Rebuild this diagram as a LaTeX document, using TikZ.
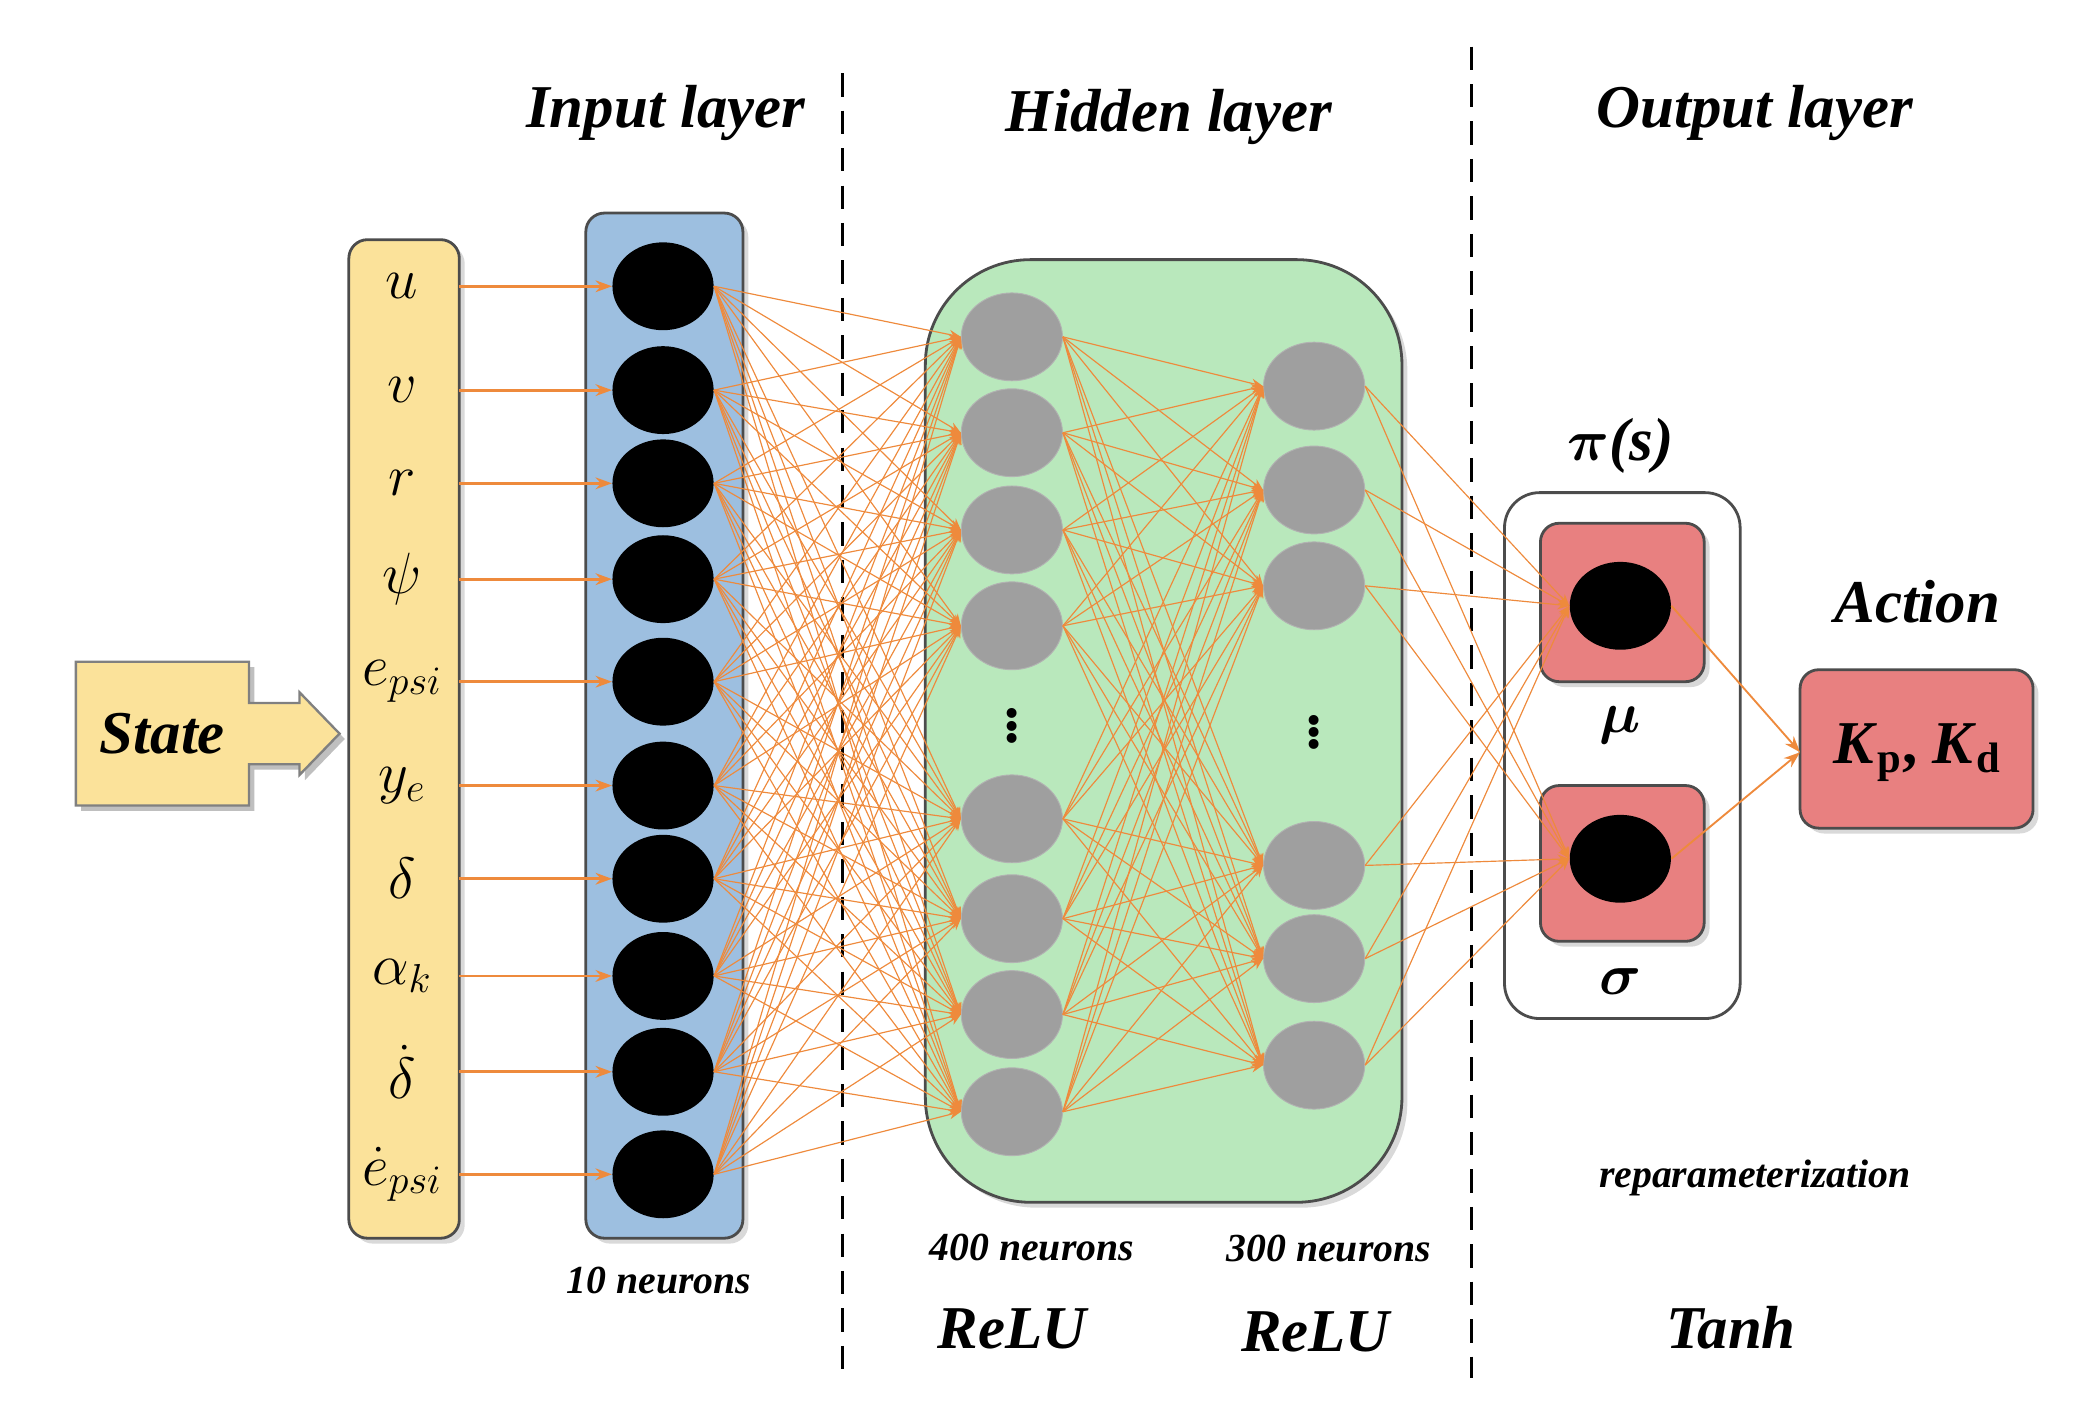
\documentclass[tikz,border=0pt]{standalone}
\usepackage{amsmath,bm}
\usepackage{fontspec}
\setmainfont{Liberation Serif}
\usetikzlibrary{arrows.meta,shadows,shapes.geometric}
\definecolor{yel}{HTML}{FBE29A}
\definecolor{blu}{HTML}{9DBFE0}
\definecolor{grn}{HTML}{B9E8BC}
\definecolor{rd}{HTML}{E88080}
\definecolor{org}{HTML}{EE8A3C}
\begin{document}
\begin{tikzpicture}[x=0.02cm,y=-0.02cm,
  box/.style={draw=black!70,line width=1.2pt,rounded corners=8pt},
  blk/.style={ellipse,fill=black,minimum width=76*0.02cm,minimum height=66*0.02cm,inner sep=0},
  gry/.style={ellipse,fill=gray!75,draw=gray!60,minimum width=76*0.02cm,minimum height=66*0.02cm,inner sep=0},
  con/.style={draw=org,line width=0.5pt,-{Stealth[length=5pt,width=4pt]}},
  inc/.style={draw=org,line width=1.2pt,-{Stealth[length=7pt,width=5pt]}},
  ttl/.style={font=\fontsize{26}{30}\selectfont\bfseries\itshape},
  sm/.style={font=\fontsize{17}{20}\selectfont\bfseries\itshape},
  lb/.style={font=\fontsize{26}{30}\selectfont}]
\useasboundingbox (0,0) rectangle (1560,1063);
% dashed lines
\draw[dashed,line width=1.3pt,dash pattern=on 10pt off 6pt] (633,55) -- (633,1035);
\draw[dashed,line width=1.3pt,dash pattern=on 10pt off 6pt] (1105,35) -- (1105,1035);
% titles
\node[ttl] (t1) at (500,85) {Input layer};
\node[ttl] (t2) at (878,88) {Hidden layer};
\node[ttl] (t3) at (1318,85) {Output layer};
% state arrow
\fill[black!25] (61,501) -- (191,501) -- (191,532) -- (229,532) -- (229,524) -- (259,555) -- (229,586) -- (229,578) -- (191,578) -- (191,609) -- (61,609) -- cycle;
\draw[fill=yel,draw=black!50,line width=1pt] (57,497) -- (187,497) -- (187,528) -- (225,528) -- (225,520) -- (255,551) -- (225,582) -- (225,574) -- (187,574) -- (187,605) -- (57,605) -- cycle;
\node[ttl] (state) at (122,551) {State};
% input column
\draw[box,fill=yel,drop shadow={opacity=0.3}] (262,180) rectangle (345,930);
\draw[box,fill=blu,drop shadow={opacity=0.3}] (440,160) rectangle (558,930);
\foreach \i/\y/\t in {1/215/$u$,2/293/$v$,3/363/$r$,4/435/$\psi$,5/512/$e_{psi}$,6/590/$y_e$,7/660/$\delta$,8/733/$\alpha_k$,9/805/$\dot\delta$,10/882/$\dot e_{psi}$}{
  \node[lb] (l\i) at (302,\y) {\t};
  \node[blk] (n\i) at (498,\y) {};
  \coordinate (s\i) at (345,\y);
  \draw[inc] (s\i) -- (n\i.west);
}
% hidden
\draw[box,fill=grn,rounded corners=45pt,drop shadow={opacity=0.3}] (695,195) rectangle (1053,903);
\foreach \j/\y in {1/253,2/325,3/398,4/470,5/615,6/690,7/762,8/835}{
  \node[gry] (h\j) at (760,\y) {};
}
\foreach \k/\y in {1/290,2/368,3/440,4/650,5/720,6/800}{
  \node[gry] (g\k) at (987,\y) {};
}
\node[font=\fontsize{26}{30}\selectfont\bfseries] (d1) at (760,540) {$\vdots$};
\node[font=\fontsize{26}{30}\selectfont\bfseries] (d2) at (987,545) {$\vdots$};
\foreach \i in {1,...,10}{\foreach \j in {1,...,8}{\draw[con] (n\i.east) -- (h\j.west);}}
\foreach \j in {1,...,8}{\foreach \k in {1,...,6}{\draw[con] (h\j.east) -- (g\k.west);}}
% output
\draw[box,fill=white,rounded corners=15pt] (1130,370) rectangle (1307,765);
\draw[box,fill=rd,drop shadow={opacity=0.3}] (1157,393) rectangle (1280,512);
\draw[box,fill=rd,drop shadow={opacity=0.3}] (1157,590) rectangle (1280,707);
\node[blk] (o1) at (1217,455) {};
\node[blk] (o2) at (1217,645) {};
\foreach \k in {1,...,6}{\draw[con] (g\k.east) -- (o1.west); \draw[con] (g\k.east) -- (o2.west);}
\node[ttl] (pi) at (1217,335) {$\bm{\pi}$(\textit{s})};
\node[font=\fontsize{24}{28}\selectfont\bfseries] (mu) at (1217,545) {$\bm\mu$};
\node[font=\fontsize{24}{28}\selectfont\bfseries] (sg) at (1217,737) {$\bm\sigma$};
\draw[box,fill=rd,drop shadow={opacity=0.3}] (1352,503) rectangle (1527,622);
\node[font=\fontsize{26}{30}\selectfont\bfseries] (act) at (1440,565) {\textit{K}\textsubscript{p}, \textit{K}\textsubscript{d}};
\coordinate (ain) at (1352,565);
\draw[inc,line width=0.8pt] (o1.east) -- (ain);
\draw[inc,line width=0.8pt] (o2.east) -- (ain);
\node[ttl] (actl) at (1440,452) {Action};
% labels
\node[sm] (n10) at (495,962) {10 neurons};
\node[sm] (n400) at (775,937) {400 neurons};
\node[sm] (n300) at (998,938) {300 neurons};
\node[ttl] (r1) at (760,998) {ReLU};
\node[ttl] (r2) at (988,1000) {ReLU};
\node[ttl] (th) at (1300,997) {Tanh};
\node[sm] (rep) at (1318,885) {reparameterization};
\end{tikzpicture}
\end{document}
